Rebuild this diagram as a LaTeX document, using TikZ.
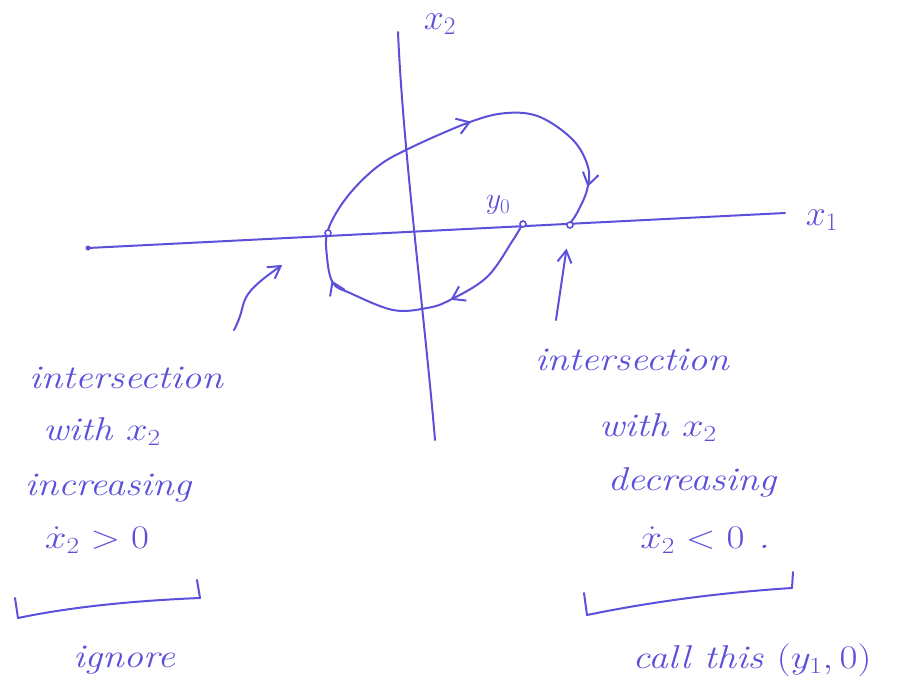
\RequirePackage{fix-cm}
\documentclass[tikz,border=0pt]{standalone}
\usepackage{amsmath}
\usepackage{graphicx}
\usetikzlibrary{arrows.meta,decorations.markings}
\definecolor{ink}{RGB}{92,80,218}
\newcommand{\handtext}[1]{\scalebox{1.3}[1.1]{#1}}
\tikzset{
  ink line/.style={draw=ink, line width=2pt, line cap=round, line join=round},
  pointer/.style={ink line, -{Straight Barb[length=12pt,width=14pt]}},
  dot/.style={circle, draw=ink, line width=1.6pt, fill=white, inner sep=0pt, minimum size=6pt},
  hand/.style={text=ink, font=\fontsize{30}{36}\selectfont\itshape, inner sep=0pt},
  axis label/.style={text=ink, font=\fontsize{36}{42}\selectfont, inner sep=0pt},
}
\begin{document}
\begin{tikzpicture}[x=1pt, y=-1pt]
    \useasboundingbox (0,0) rectangle (919,694);

    % Achsen
    \coordinate (x1start) at (88,248);
    \coordinate (x1end) at (785,213);
    \coordinate (x2top) at (398,32);
    \coordinate (x2bot) at (435,440);
    \draw[ink line] (x1start) -- (x1end);
    \fill[ink] (x1start) circle (2.5pt);
    \draw[ink line] (x2top) .. controls (403,150) and (425,320) .. (x2bot);
    \node[axis label] (x1lab) at (822,220) {$x_1$};
    \node[axis label] (x2lab) at (440,24) {$x_2$};

    % Bahn von y0 bis y1
    \draw[ink line, postaction={decorate}, decoration={markings,
        mark=at position 0.16 with {\arrow{Straight Barb[length=12pt,width=16pt]}},
        mark=at position 0.35 with {\arrow{Straight Barb[length=12pt,width=16pt]}},
        mark=at position 0.70 with {\arrow{Straight Barb[length=12pt,width=16pt]}},
        mark=at position 0.94 with {\arrow{Straight Barb[length=12pt,width=16pt]}}}]
      plot[smooth, tension=0.6] coordinates {(523,223) (513,240) (487,277) (450,300)
        (427,308) (393,310) (350,293) (333,283) (327,257) (328,230) (347,197)
        (377,167) (410,148) (470,122) (507,113) (540,117) (573,140) (588,167)
        (587,190) (577,213) (570,223)};
    \node[dot] (y0) at (523,224) {};
    \node[dot] (y1) at (570,225) {};
    \node[dot] (yl) at (328,233) {};
    \node[axis label, font=\fontsize{30}{36}\selectfont] (y0lab) at (498,205) {$y_0$};

    % Zeiger
    \coordinate (lstart) at (234,330);
    \coordinate (rstart) at (556,320);
    \draw[pointer, shorten >=52pt] (lstart) .. controls (250,300) and (232,300) .. (yl);
    \draw[pointer, shorten >=20pt] (rstart) -- (y1);

    % linker Text
    \node[hand] (l1) at (126,378) {\handtext{intersection}};
    \node[hand] (l2) at (102,432) {\handtext{with $x_2$}};
    \node[hand] (l3) at (108,488) {\handtext{increasing}};
    \node[hand] (l4) at (97,540) {\handtext{$\dot{x}_2 > 0$}};
    \node[hand] (l5) at (124,660) {\handtext{ignore}};
    \draw[ink line] (15,598) -- (18,618) .. controls (80,605) and (150,600) .. (200,598) -- (197,580);

    % rechter Text
    \node[hand] (r1) at (632,360) {\handtext{intersection}};
    \node[hand] (r2) at (658,428) {\handtext{with $x_2$}};
    \node[hand] (r3) at (692,482) {\handtext{decreasing}};
    \node[hand] (r4) at (705,540) {\handtext{$\dot{x}_2 < 0$ .}};
    \node[hand] (r5) at (752,660) {\handtext{call this $(y_1, 0)$}};
    \draw[ink line] (584,593) -- (587,615) .. controls (660,600) and (730,592) .. (792,588) -- (793,572);
\end{tikzpicture}
\end{document}
